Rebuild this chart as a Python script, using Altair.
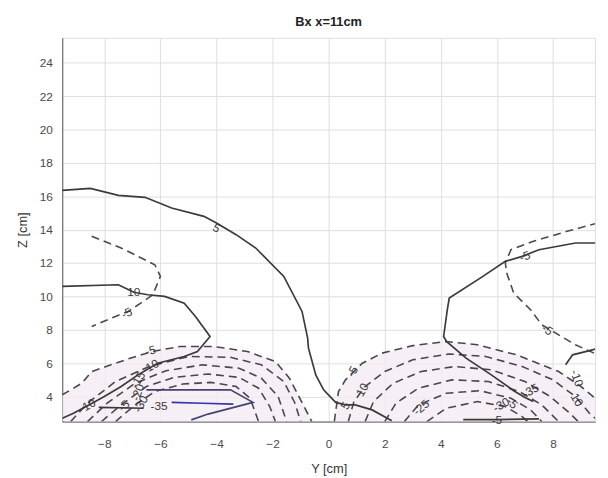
import altair as alt
import pandas as pd

TITLE = "Bx x=11cm"
X_TICKS = [-8, -6, -4, -2, 0, 2, 4, 6, 8]
Y_TICKS = [4, 6, 8, 10, 12, 14, 16, 18, 20, 22, 24]

# ---- contour lines (Y [cm], Z [cm]) ----
s5_left_x = [-9.5, -8.5, -7.5, -6.55, -5.6, -4.45, -4.0, -3.3, -2.6, -1.6, -0.95, -0.75, -0.72, -0.46, -0.18, 0.25, 0.6, 0.95, 1.55, 2.25]
s5_left_y = [16.35, 16.47, 16.06, 15.94, 15.3, 14.8, 14.4, 13.7, 12.9, 11.2, 9.1, 7.5, 6.9, 5.3, 4.4, 3.65, 3.5, 3.5, 3.2, 2.55]

s10_left_x = [-9.5, -7.5, -6.95, -6.45, -5.85, -5.15, -4.75, -4.23, -4.68, -5.15, -6.1, -6.8, -7.4, -8.0, -8.55, -9.1, -9.5]
s10_left_y = [10.6, 10.7, 10.25, 10.1, 10.0, 9.6, 8.8, 7.6, 6.7, 6.4, 6.0, 5.3, 4.6, 4.0, 3.5, 3.0, 2.7]

d5_upleft_x = [-8.45, -7.4, -6.2, -6.0, -6.27, -6.7, -7.15, -7.6, -8.45]
d5_upleft_y = [13.6, 12.9, 11.9, 11.2, 10.1, 9.6, 9.1, 8.8, 8.2]

l1_x = [-9.5, -8.8, -8.45, -7.25, -6.3, -5.3, -4.1, -2.9, -1.9, -1.4, -1.0, -0.6]
l1_y = [4.1, 4.8, 5.5, 6.2, 6.7, 7.0, 7.0, 6.7, 6.1, 5.1, 3.8, 2.5]
l2_x = [-9.2, -8.6, -7.6, -6.4, -5.0, -3.5, -2.4, -1.6, -1.2, -1.0]
l2_y = [2.5, 3.6, 4.9, 5.8, 6.4, 6.35, 5.9, 4.9, 3.6, 2.5]
l3_x = [-8.6, -7.9, -6.9, -5.8, -4.5, -3.2, -2.4, -1.8, -1.5]
l3_y = [2.5, 3.6, 4.8, 5.55, 5.9, 5.7, 5.1, 4.0, 2.5]
l4_x = [-8.1, -7.4, -6.5, -5.5, -4.3, -3.2, -2.5, -2.1, -1.9]
l4_y = [2.5, 3.5, 4.6, 5.15, 5.35, 5.15, 4.5, 3.4, 2.5]
l5_x = [-7.6, -6.9, -6.2, -5.2, -4.2, -3.3, -2.8, -2.5]
l5_y = [2.5, 3.5, 4.3, 4.75, 4.85, 4.6, 3.9, 2.5]

l30_x = [-6.5, -6.1, -3.5, -2.7, -4.3, -4.9]
l30_y = [4.4, 4.4, 4.4, 3.65, 2.95, 2.6]
l35_x = [-5.6, -4.5, -3.4]
l35_y = [3.65, 3.6, 3.55]
lbot_x = [-8.2, -6.6]
lbot_y = [3.35, 3.3]

r1_x = [0.2, 0.35, 0.6, 1.2, 1.9, 3.0, 4.2, 5.3, 6.7, 8.2, 9.0, 9.5]
r1_y = [2.5, 4.3, 5.0, 6.0, 6.6, 7.05, 7.3, 7.1, 6.5, 5.5, 4.6, 3.9]
r2_x = [0.7, 0.9, 1.3, 2.0, 3.0, 4.3, 5.6, 6.9, 8.0, 8.8, 9.3, 9.5]
r2_y = [2.5, 3.7, 4.6, 5.5, 6.2, 6.55, 6.4, 5.8, 5.0, 4.0, 3.0, 2.7]
r3_x = [1.3, 1.6, 2.3, 3.3, 4.5, 5.8, 7.0, 7.9, 8.6, 8.9]
r3_y = [2.5, 3.7, 4.8, 5.5, 5.8, 5.6, 4.9, 4.0, 3.0, 2.5]
r4_x = [2.0, 2.4, 3.2, 4.4, 5.7, 6.8, 7.6, 8.2]
r4_y = [2.5, 3.6, 4.5, 5.0, 4.9, 4.3, 3.5, 2.5]
r5_x = [2.7, 3.2, 4.2, 5.4, 6.5, 7.2, 7.6]
r5_y = [2.5, 3.5, 4.2, 4.35, 3.9, 3.2, 2.5]
r6_x = [3.5, 4.2, 5.3, 6.3, 6.9, 7.1]
r6_y = [2.5, 3.3, 3.7, 3.4, 2.8, 2.5]

s5_right_x = [9.65, 8.8, 7.5, 6.9, 6.3, 5.5, 4.3, 4.23, 4.1, 4.2, 4.9, 5.8, 6.6, 7.0, 7.3]
s5_right_y = [13.2, 13.2, 12.8, 12.4, 12.1, 11.2, 9.9, 9.2, 7.6, 7.3, 6.3, 5.3, 4.35, 3.94, 3.7]
d5_upright_x = [9.6, 8.5, 7.3, 6.5, 6.3, 6.35, 6.6, 7.2, 7.6, 8.8, 9.6]
d5_upright_y = [14.4, 13.9, 13.3, 12.8, 12.0, 11.4, 10.2, 9.2, 8.3, 7.1, 6.5]
s10_right_x = [8.45, 8.7, 9.3, 9.65]
s10_right_y = [5.9, 6.5, 6.75, 6.9]
sbot_right_x = [4.8, 6.0, 7.5]
sbot_right_y = [2.62, 2.62, 2.66]

# contour labels
lab_text = ["5", "10", "-5", "-5", "-10", "-15", "-20", "-30", "-35", "-5", "10",
            "-5", "10", "5", "-25", "-30", "-35", "-5", "-5", "-5", "-10", "10", "-5"]
lab_x = [-4.0, -6.95, -7.2, -6.35, -6.35, -6.8, -6.8, -6.7, -6.05, -7.3, -8.55,
         0.85, 1.2, 0.6, 3.3, 6.15, 7.2, 7.0, 7.8, 6.0, 8.85, 8.85, 6.55]
lab_y = [14.1, 10.25, 9.0, 6.75, 5.8, 5.0, 4.25, 3.55, 3.45, 3.45, 3.5,
         5.5, 4.4, 3.45, 3.35, 3.5, 4.35, 12.4, 8.0, 2.62, 5.1, 3.8, 3.6]
lab_angle = [28, 0, 335, 345, 330, 300, 290, 300, 0, 320, 330,
             300, 300, 300, 320, 330, 330, 340, 35, 0, 70, 60, 45]

contours = [
    ("s5_left", s5_left_x, s5_left_y, "solid", "#3a3a3a"),
    ("s10_left", s10_left_x, s10_left_y, "solid", "#3a3a3a"),
    ("d5_upleft", d5_upleft_x, d5_upleft_y, "dash", "#4a4a4a"),
    ("l1", l1_x, l1_y, "dash", "#4a4550"),
    ("l2", l2_x, l2_y, "dash", "#4a4550"),
    ("l3", l3_x, l3_y, "dash", "#4a4550"),
    ("l4", l4_x, l4_y, "dash", "#4a4550"),
    ("l5", l5_x, l5_y, "dash", "#4a4550"),
    ("l30", l30_x, l30_y, "solid", "#44446e"),
    ("l35", l35_x, l35_y, "solid", "#3535a5"),
    ("lbot", lbot_x, lbot_y, "solid", "#3a3a3a"),
    ("r1", r1_x, r1_y, "dash", "#4a4550"),
    ("r2", r2_x, r2_y, "dash", "#4a4550"),
    ("r3", r3_x, r3_y, "dash", "#4a4550"),
    ("r4", r4_x, r4_y, "dash", "#4a4550"),
    ("r5", r5_x, r5_y, "dash", "#4a4550"),
    ("r6", r6_x, r6_y, "dash", "#4a4550"),
    ("s5_right", s5_right_x, s5_right_y, "solid", "#3a3a3a"),
    ("d5_upright", d5_upright_x, d5_upright_y, "dash", "#4a4a4a"),
    ("s10_right", s10_right_x, s10_right_y, "solid", "#3a3a3a"),
    ("sbot_right", sbot_right_x, sbot_right_y, "solid", "#3a3a3a"),
]

rows = []
for name, xs, ys, style, color in contours:
    for i, (xv, yv) in enumerate(zip(xs, ys)):
        rows.append({"id": name, "i": i, "x": xv, "y": yv, "style": style, "color": color})
lines_df = pd.DataFrame(rows)

fill_rows = []
for name, xs, ys in [("l1", l1_x, l1_y), ("r1", r1_x, r1_y)]:
    for xv, yv in zip(xs, ys):
        fill_rows.append({"id": name, "x": xv, "y": yv, "base": 2.5})
fill_df = pd.DataFrame(fill_rows)

labels_df = pd.DataFrame({"text": lab_text, "x": lab_x, "y": lab_y, "angle": lab_angle})

FONT = "Liberation Sans"
xscale = alt.Scale(domain=[-9.5, 9.5], nice=False, zero=False)
yscale = alt.Scale(domain=[2.5, 25.5], nice=False, zero=False)

x_axis = alt.Axis(values=X_TICKS, title="Y [cm]", grid=True, gridColor="#dedede",
                  domainColor="#555555", ticks=False, tickSize=0, labelPadding=17,
                  labelOverlap=False,
                  labelFont=FONT, labelFontSize=12, labelColor="#4a4a4a",
                  titleFont=FONT, titleFontSize=13, titleFontWeight="normal",
                  titleColor="#333333", titlePadding=14)
y_axis = alt.Axis(values=Y_TICKS, title="Z [cm]", grid=True, gridColor="#dedede",
                  domainColor="#555555", ticks=False, tickSize=0, labelPadding=10,
                  labelOverlap=False,
                  labelFont=FONT, labelFontSize=12, labelColor="#4a4a4a",
                  titleFont=FONT, titleFontSize=13, titleFontWeight="normal",
                  titleColor="#333333", titlePadding=10)

X_ENC = alt.X("x:Q", scale=xscale, axis=x_axis)
Y_ENC = alt.Y("y:Q", scale=yscale, axis=y_axis)

fill = alt.Chart(fill_df).mark_area(color="#f4ebf3", opacity=0.8, clip=True).encode(
    x=X_ENC,
    y=Y_ENC,
    y2="base:Q",
    detail="id:N",
)

solid = alt.Chart(lines_df).transform_filter(alt.datum.style == "solid").mark_line(
    strokeWidth=1.7, clip=True
).encode(
    x=X_ENC,
    y=Y_ENC,
    detail="id:N",
    order="i:Q",
    color=alt.Color("color:N", scale=None),
)

dashed = alt.Chart(lines_df).transform_filter(alt.datum.style == "dash").mark_line(
    strokeWidth=1.6, strokeDash=[8, 5], clip=True
).encode(
    x=X_ENC,
    y=Y_ENC,
    detail="id:N",
    order="i:Q",
    color=alt.Color("color:N", scale=None),
)

labels = alt.Chart(labels_df).mark_text(
    font=FONT, fontSize=12, color="#3a3a3a", align="center", baseline="middle"
).encode(
    x=X_ENC,
    y=Y_ENC,
    text="text:N",
    angle=alt.Angle("angle:Q", scale=None),
)

chart = alt.layer(fill, dashed, solid, labels).properties(
    width=540,
    height=389,
    title=alt.TitleParams(TITLE, font=FONT, fontSize=13, fontWeight="bold",
                          color="#222222", anchor="middle", offset=9),
    autosize=alt.AutoSizeParams(type="none"),
    padding={"left": 55, "top": 27, "right": 5, "bottom": 53},
).configure_view(stroke=None).configure(background="white")

chart.save("out.html", embed_options={"renderer": "svg", "actions": False})
